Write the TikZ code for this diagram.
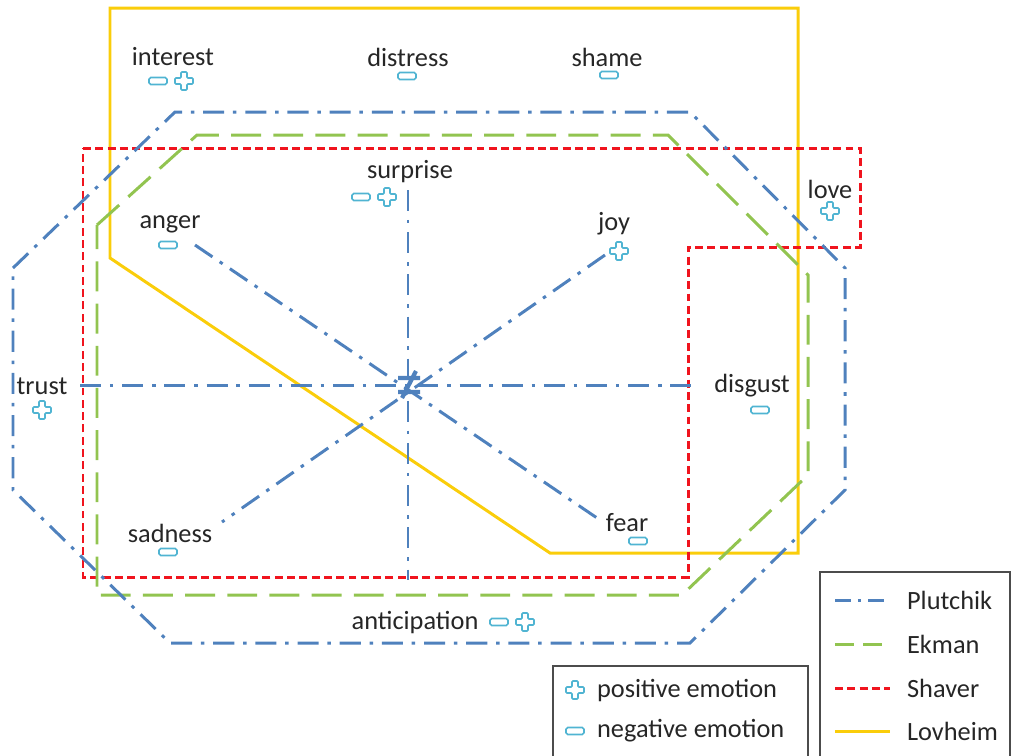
\documentclass[tikz,border=0pt]{standalone}
\usepackage{fontspec}
\setmainfont{Carlito}
\usetikzlibrary{positioning}
\definecolor{plutblue}{RGB}{79,129,189}
\definecolor{ekgreen}{RGB}{146,196,80}
\definecolor{shred}{RGB}{240,20,30}
\definecolor{lovyellow}{RGB}{250,205,10}
\definecolor{iconblue}{RGB}{80,180,210}
\tikzset{
  plutchik/.style = {plutblue, line width=1.7pt, dash pattern=on 12pt off 5pt on 2pt off 5pt},
  ekman/.style = {ekgreen, line width=1.7pt, dash pattern=on 17pt off 7pt},
  shaver/.style = {shred, line width=1.7pt, dash pattern=on 4.5pt off 2.5pt},
  lovheim/.style = {lovyellow, line width=1.7pt},
  emo/.style = {font=\fontsize{15}{18}\selectfont, text=black!85, inner sep=1pt},
  legendbox/.style = {draw=black!70, line width=0.6pt},
  plusicon/.pic = {\draw[iconblue, line width=0.9pt, rounded corners=0.6pt]
    (-3,-9) -- (3,-9) -- (3,-3) -- (9,-3) -- (9,3) -- (3,3) -- (3,9)
    -- (-3,9) -- (-3,3) -- (-9,3) -- (-9,-3) -- (-3,-3) -- cycle;},
  minusicon/.pic = {\draw[iconblue, line width=0.9pt, rounded corners=1pt]
    (-9,-3.5) rectangle (9,3.5);}
}
\begin{document}
\begin{tikzpicture}[x=0.02cm, y=-0.02cm]
\useasboundingbox (0,0) rectangle (1011,755);

% Lovheim
\draw[lovheim] (110,8) -- (798,8) -- (798,553) -- (550,553) -- (110,258) -- cycle;
% Shaver
\draw[shaver] (83,148) -- (860,148) -- (860,247) -- (688,247) -- (688,577) -- (83,577) -- cycle;
% Ekman
\draw[ekman] (97,225) -- (197,135) -- (668,135) -- (808,275) -- (808,475) -- (682,595) -- (97,595) -- cycle;
% Plutchik
\draw[plutchik] (13,268) -- (175,112) -- (690,112) -- (845,268) -- (845,490) -- (690,643) -- (170,643) -- (13,490) -- cycle;

% spokes
\coordinate (c) at (408,385);
\coordinate (n) at (408,190);
\coordinate (s) at (408,580);
\coordinate (w) at (80,385);
\coordinate (e) at (700,385);
\coordinate (nw) at (195,245);
\coordinate (se) at (600,520);
\coordinate (ne) at (605,255);
\coordinate (sw) at (222,522);
\draw[plutchik] (n) -- (s);
\draw[plutchik] (w) -- (e);
\draw[plutchik] (nw) -- (se);
\draw[plutchik] (ne) -- (sw);
\draw[plutblue, line width=2.4pt] (398,378) -- (420,378) (398,392) -- (420,392) (402,398) -- (416,371);

% emotions
\node[emo] (interest) at (173,57) {interest};
\node[emo] (distress) at (408,57) {distress};
\node[emo] (shame) at (607,57) {shame};
\node[emo] (surprise) at (410,172) {surprise};
\node[emo] (anger) at (170,224) {anger};
\node[emo] (joy) at (614,224) {joy};
\node[emo] (love) at (830,189) {love};
\node[emo] (trust) at (42,386) {trust};
\node[emo] (disgust) at (752,386) {disgust};
\node[emo] (sadness) at (170,533) {sadness};
\node[emo] (fear) at (627,523) {fear};
\node[emo] (anticipation) at (415,622) {anticipation};

\pic at (158,81) {minusicon};
\pic at (184,81) {plusicon};
\pic at (407,76) {minusicon};
\pic at (609,75) {minusicon};
\pic at (361,197) {minusicon};
\pic at (387,197) {plusicon};
\pic at (168,245) {minusicon};
\pic at (619,251) {plusicon};
\pic at (830,211) {plusicon};
\pic at (42,410) {plusicon};
\pic at (760,410) {minusicon};
\pic at (168,552) {minusicon};
\pic at (638,541) {minusicon};
\pic at (499,622) {minusicon};
\pic at (525,622) {plusicon};

% legends
\draw[legendbox] (553,756) |- (808,666) -- (808,756);
\pic at (575,690) {plusicon};
\node[emo, anchor=west] (pos) at (595,690) {positive emotion};
\pic at (575,731) {minusicon};
\node[emo, anchor=west] (neg) at (595,731) {negative emotion};

\draw[legendbox] (820,756) |- (1010,572) -- (1010,756);
\coordinate (l1) at (835,600); \coordinate (r1) at (890,600);
\coordinate (l2) at (835,644); \coordinate (r2) at (890,644);
\coordinate (l3) at (835,688); \coordinate (r3) at (890,688);
\coordinate (l4) at (835,731); \coordinate (r4) at (890,731);
\draw[plutblue, line width=1.7pt, dash pattern=on 9pt off 4pt on 2pt off 4pt] (l1) -- (r1);
\draw[ekgreen, line width=1.7pt, dash pattern=on 11pt off 5pt] (l2) -- (r2);
\draw[shaver] (l3) -- (r3);
\draw[lovheim] (l4) -- (r4);
\node[emo, anchor=west] (plut) at (905,600) {Plutchik};
\node[emo, anchor=west] (ekm) at (905,644) {Ekman};
\node[emo, anchor=west] (shav) at (905,688) {Shaver};
\node[emo, anchor=west] (lovh) at (905,731) {Lovheim};
\end{tikzpicture}
\end{document}
